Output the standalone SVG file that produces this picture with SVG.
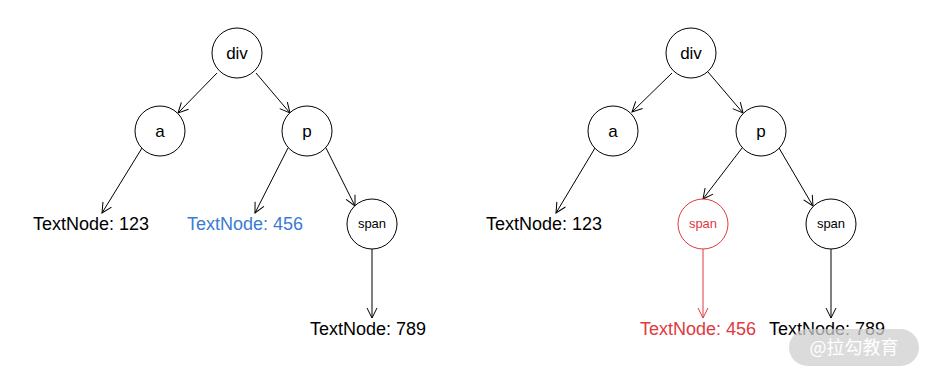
<svg xmlns="http://www.w3.org/2000/svg" width="932" height="378" viewBox="0 0 932 378">
<style>
.n{fill:#fff;stroke:#000;stroke-width:1}
.nr{fill:#fff;stroke:#e0393e;stroke-width:1}
.t{font-family:"Liberation Sans",Arial,sans-serif;font-size:17px;text-anchor:middle;fill:#000}
.s{font-family:"Liberation Sans",Arial,sans-serif;font-size:13px;text-anchor:middle;fill:#000}
.lb{font-family:"Liberation Sans",Arial,sans-serif;font-size:18px;text-anchor:middle;fill:#000}
.e{stroke:#000;stroke-width:1;fill:none;marker-end:url(#ah)}
.er{stroke:#e0393e;stroke-width:1;fill:none;marker-end:url(#ahr)}
</style>
<defs>
<marker id="ah" markerUnits="userSpaceOnUse" markerWidth="14" markerHeight="14" refX="11" refY="6" orient="auto">
<path d="M1,1 L11,6 L1,11" fill="none" stroke="#000" stroke-width="1"/>
</marker>
<marker id="ahr" markerUnits="userSpaceOnUse" markerWidth="14" markerHeight="14" refX="11" refY="6" orient="auto">
<path d="M1,1 L11,6 L1,11" fill="none" stroke="#e0393e" stroke-width="1"/>
</marker>
</defs>
<rect width="932" height="378" fill="#fff"/>
<g id="connectors">
<line class="e" x1="217" y1="73" x2="178" y2="113"/>
<line class="e" x1="256" y1="73" x2="290" y2="113"/>
<line class="e" x1="142" y1="148" x2="102" y2="213"/>
<line class="e" x1="288" y1="148" x2="255" y2="213"/>
<line class="e" x1="326" y1="148" x2="355" y2="206"/>
<line class="e" x1="372" y1="249" x2="372" y2="318"/>
<line class="e" x1="672" y1="73" x2="632" y2="112"/>
<line class="e" x1="708" y1="72" x2="743" y2="113"/>
<line class="e" x1="595" y1="148" x2="556" y2="213"/>
<line class="e" x1="742" y1="148" x2="703" y2="199"/>
<line class="e" x1="779" y1="148" x2="813" y2="206"/>
<line class="er" x1="703" y1="249" x2="703" y2="318"/>
<line class="e" x1="831" y1="249" x2="831" y2="318"/>
</g>
<g id="l-div"><circle class="n" cx="237" cy="53" r="25"/><text class="t" x="237" y="59">div</text></g>
<g id="l-a"><circle class="n" cx="160" cy="131" r="25"/><text class="t" x="160" y="137">a</text></g>
<g id="l-p"><circle class="n" cx="307" cy="131" r="25"/><text class="t" x="307" y="137">p</text></g>
<g id="l-span"><circle class="n" cx="372" cy="224" r="25"/><text class="s" x="372" y="228">span</text></g>
<g id="l-t123"><text class="lb" x="91" y="230">TextNode: 123</text></g>
<g id="l-t456"><text class="lb" x="245" y="230" style="fill:#3a7bd5">TextNode: 456</text></g>
<g id="l-t789"><text class="lb" x="368" y="335">TextNode: 789</text></g>
<g id="r-div"><circle class="n" cx="691" cy="53" r="25"/><text class="t" x="691" y="59">div</text></g>
<g id="r-a"><circle class="n" cx="613" cy="131" r="25"/><text class="t" x="613" y="137">a</text></g>
<g id="r-p"><circle class="n" cx="761" cy="131" r="25"/><text class="t" x="761" y="137">p</text></g>
<g id="r-span-new"><circle class="nr" cx="703" cy="224" r="25"/><text class="s" x="703" y="228" style="fill:#e0393e">span</text></g>
<g id="r-span"><circle class="n" cx="831" cy="224" r="25"/><text class="s" x="831" y="228">span</text></g>
<g id="r-t123"><text class="lb" x="544" y="230">TextNode: 123</text></g>
<g id="r-t456"><text class="lb" x="698" y="335" style="fill:#e0393e">TextNode: 456</text></g>
<g id="r-t789"><text class="lb" x="827" y="335">TextNode: 789</text></g>
<g id="watermark">
<rect x="789" y="329" width="130" height="37" rx="18.5" fill="#cfcfcf" fill-opacity="0.75"/>
<text x="854" y="354" font-family="'Noto Sans CJK SC',sans-serif" font-size="18" text-anchor="middle" fill="#fff">@拉勾教育</text>
</g>
</svg>
